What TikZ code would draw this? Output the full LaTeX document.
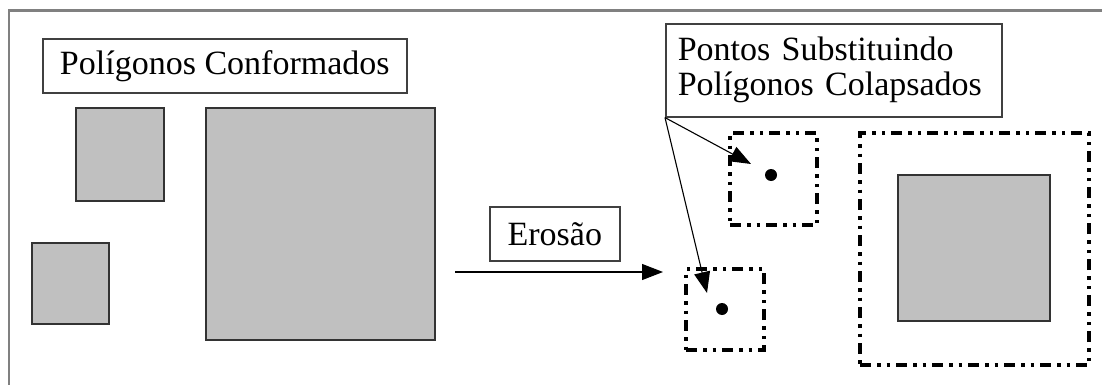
\documentclass[tikz,border=0pt]{standalone}
\usepackage{fontspec}
\setmainfont{Liberation Serif}
\usetikzlibrary{arrows.meta}
\begin{document}
\begin{tikzpicture}[x=1pt,y=-1pt,
  poly/.style={draw=black!80,fill={rgb,255:red,192;green,192;blue,192},line width=1.6pt,inner sep=0pt,anchor=north west},
  label/.style={draw=black!75,fill=white,line width=1.6pt,inner sep=0pt,font=\fontsize{34}{35}\selectfont},
  ddbox/.style={draw=black,line width=4.2pt,dash pattern=on 11pt off 6pt on 3.5pt off 6pt on 3.5pt off 6pt,inner sep=0pt,anchor=north west},
  frame/.style={draw=black!50,line width=2.2pt},
  conn/.style={draw=black,line width=1.1pt,-{Triangle[length=21pt,width=16pt]}}]
\useasboundingbox (0,0) rectangle (1102,385);
% frame
\coordinate (ftr) at (1102,10.5);
\coordinate (ftl) at (9,10.5);
\coordinate (fbl) at (9,385);
\draw[frame] (ftr) -- (ftl) -- (fbl);
% left polygons
\node[label,minimum width=364pt,minimum height=54pt,anchor=north west] (lab1) at (42,38) {Polígonos Conformados};
\node[poly,minimum width=88pt,minimum height=93pt] (sq1) at (75,107) {};
\node[poly,minimum width=77pt,minimum height=81pt] (sq2) at (31,242) {};
\node[poly,minimum width=229pt,minimum height=232pt] (sq3) at (205,107) {};
% erosion
\node[label,minimum width=130pt,minimum height=54pt,anchor=north west] (lab2) at (489,206) {Erosão};
\coordinate (ea) at (455,272);
\coordinate (eb) at (663,272);
\draw[conn] (ea) -- (eb);
% right side
\node[label,text width=312pt,inner xsep=12pt,align=left,minimum height=93pt,anchor=north west] (lab3) at (665,23) {Pontos Substituindo\\Polígonos Colapsados};
\node[ddbox,minimum width=87pt,minimum height=92pt] (db1) at (728,131) {};
\node[ddbox,minimum width=78pt,minimum height=81pt] (db2) at (684,267) {};
\node[ddbox,minimum width=229pt,minimum height=232pt] (db3) at (858,131) {};
\node[poly,minimum width=152pt,minimum height=146pt] (sq4) at (897,174) {};
\node[circle,fill=black,inner sep=0pt,minimum size=12pt] (p1) at (771,175) {};
\node[circle,fill=black,inner sep=0pt,minimum size=12pt] (p2) at (722,309) {};
\coordinate (t1) at (751,164);
\coordinate (t2) at (707,293);
\draw[conn] (lab3.south west) -- (t1);
\draw[conn] (lab3.south west) -- (t2);
\end{tikzpicture}
\end{document}
